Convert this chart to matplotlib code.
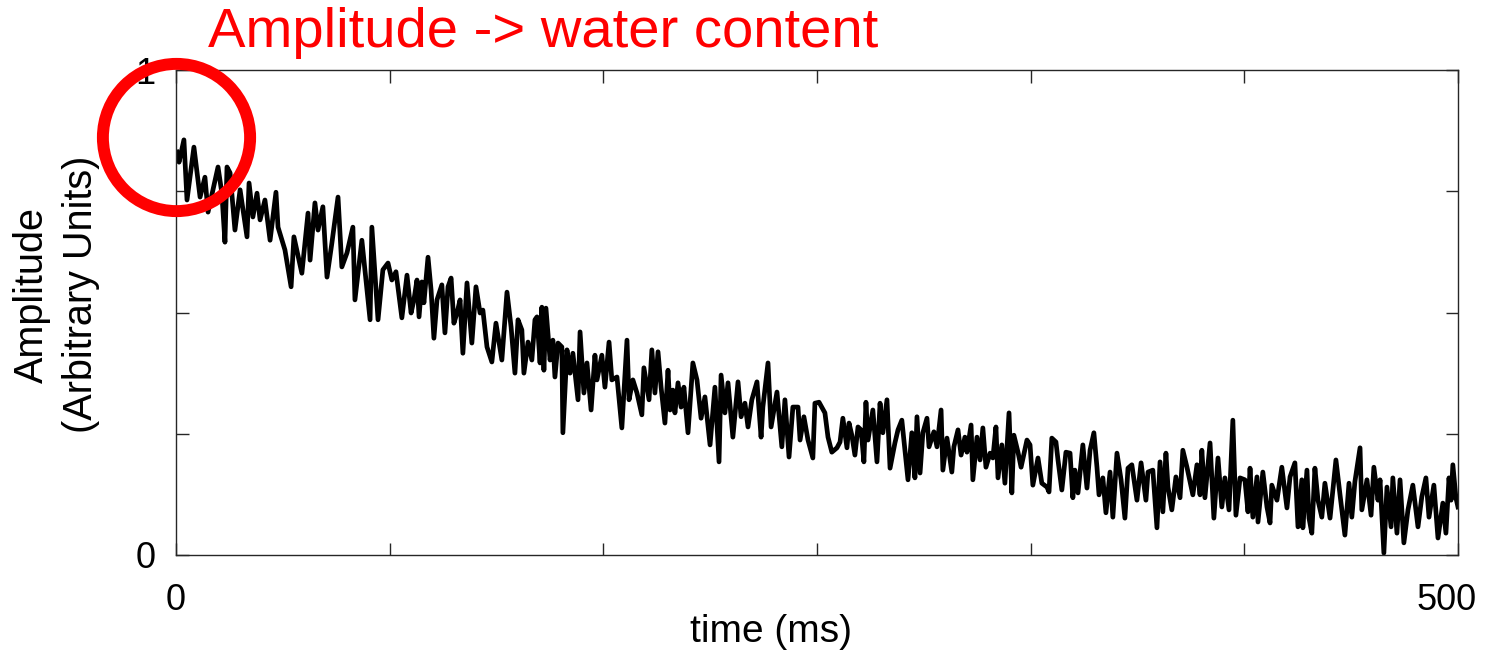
import numpy as np
import matplotlib
matplotlib.use('Agg')
import matplotlib.pyplot as plt
import matplotlib.transforms as mtransforms

plt.rcParams['font.family'] = ['Liberation Sans', 'DejaVu Sans']

# values (time in ms, amplitude in a.u.)
t_ms = [0.4, 1.2, 3.1, 4.3, 7.0, 9.4, 11.3, 12.5, 16.4, 17.9, 19.1, 19.9, 21.1, 23.0, 25.0, 27.7, 28.5, 30.0,
        31.6, 32.8, 34.7, 36.7, 39.0, 39.8, 42.5, 44.9, 46.0, 49.1, 51.5, 52.3, 54.2, 55.4, 57.3, 58.9, 60.8,
        63.2, 64.7, 66.7, 69.0, 69.8, 72.5, 75.7, 76.4, 78.8, 80.7,
        82.7, 84.2, 85.8, 88.1, 90.1, 91.7, 92.8, 94.0, 94.8, 95.9, 96.7, 98.3, 99.5, 100.6, 101.8, 103.7,
        104.9, 106.1, 107.3, 108.4, 109.6, 110.8, 111.9, 113.5, 115.4, 117.0, 118.6, 119.7, 121.3, 123.2,
        124.8, 127.1, 129.1, 130.7, 132.2, 133.4, 134.9, 135.7, 137.3, 138.8, 140.0, 140.8, 142.0, 142.7,
        143.5, 144.3, 145.9, 147.0, 147.8, 149.0, 150.5, 150.9, 152.5, 153.7, 154.8, 156.8, 157.6, 159.1,
        160.3, 161.9, 163.4,
        164.2, 166.1, 167.3, 168.9, 170.0, 172.0, 173.9, 175.9, 176.7, 178.2, 179.8, 181.7, 182.5, 184.5,
        185.6, 186.8, 188.0, 189.2, 190.7, 191.9, 192.7, 193.8, 194.6, 195.8, 197.0, 198.1, 199.7, 201.6,
        203.2, 204.8, 206.3, 208.3, 210.2, 211.8, 212.6, 214.1, 215.3, 217.2, 219.2, 220.4, 221.9, 223.1,
        224.6, 226.6, 228.2, 228.9, 230.9, 232.1, 234.4, 236.3, 237.5, 239.1, 240.6, 242.6, 243.4, 244.9,
        246.5, 248.4, 249.2,
        250.8, 253.1, 254.3, 255.8, 257.8, 259.0, 260.1, 261.7, 262.5, 263.6, 264.8, 266.0, 267.2, 268.3,
        269.1, 269.9, 271.8, 273.4, 274.6, 275.7, 277.3, 278.5, 280.4, 281.6, 283.1, 284.3, 285.5, 287.0,
        288.2, 289.0, 290.2, 291.3, 292.9, 293.7, 295.6, 296.8, 298.4, 299.1, 300.7, 302.6, 303.4, 305.0,
        306.2, 307.7, 308.5, 310.1, 310.8, 312.4, 313.6, 314.7, 315.9, 317.5, 318.6, 319.8, 320.6, 322.1,
        323.3, 324.9, 326.0, 326.8, 328.4, 329.6, 331.9, 333.1, 334.2,
        336.2, 337.7, 339.7, 340.5, 341.6, 343.2, 344.0, 345.5, 347.1, 348.7, 349.8, 350.6, 351.8, 353.7,
        355.3, 356.5, 358.0, 359.2, 360.0, 361.5, 362.7, 364.3, 365.4, 367.0, 368.6, 370.1, 371.3, 372.8,
        374.8, 376.4, 378.3, 379.1, 381.0, 382.6, 383.8, 384.9, 386.1, 386.9, 388.4, 390.0, 391.6, 392.7,
        394.3, 396.6, 398.2, 399.4, 400.1, 401.3, 403.3, 404.8, 406.4, 407.9, 409.1, 410.7, 412.2, 413.4,
        415.0, 416.9,
        418.1, 418.9, 420.0, 421.6, 422.0, 423.9, 425.5, 426.7, 427.4, 429.4, 431.3, 433.3, 434.5, 436.4,
        437.6, 439.1, 439.5, 441.1, 441.9, 443.0, 444.2, 445.4, 446.9, 448.1, 450.1, 452.4, 454.0, 455.9,
        457.5, 458.6, 459.8, 461.8, 462.5, 464.5, 466.1, 467.2, 468.8, 469.6, 471.1, 472.3, 473.9, 474.6,
        476.2, 477.4, 478.9, 480.5, 482.4, 484.4, 485.9, 487.5, 488.7, 490.6, 492.2, 494.1, 495.3, 496.5,
        497.3, 498.0, 499.2, 500.0]

amp = [0.831, 0.810, 0.856, 0.732, 0.841, 0.738, 0.779, 0.707, 0.800, 0.746, 0.645, 0.800, 0.788, 0.670,
       0.753, 0.656, 0.767, 0.697, 0.746, 0.691, 0.732, 0.649, 0.748, 0.676, 0.629, 0.553, 0.656, 0.581,
       0.705, 0.608, 0.726, 0.670, 0.718, 0.573, 0.643, 0.738, 0.594, 0.623, 0.676, 0.526, 0.649, 0.485,
       0.676, 0.485, 0.588,
       0.602, 0.567, 0.584, 0.489, 0.577, 0.499, 0.526, 0.567, 0.491, 0.563, 0.520, 0.614, 0.546, 0.447,
       0.526, 0.557, 0.458, 0.553, 0.571, 0.478, 0.499, 0.526, 0.416, 0.561, 0.437, 0.553, 0.499, 0.505,
       0.429, 0.398, 0.478, 0.402, 0.542, 0.470, 0.375, 0.485, 0.464, 0.375, 0.439, 0.402, 0.485, 0.491,
       0.396, 0.511, 0.381, 0.509, 0.402, 0.443, 0.367, 0.437, 0.429, 0.252, 0.423, 0.375, 0.416, 0.320,
       0.460, 0.334, 0.396, 0.299, 0.412,
       0.361, 0.412, 0.346, 0.439, 0.361, 0.367, 0.262, 0.443, 0.320, 0.361, 0.334, 0.289, 0.386, 0.320,
       0.423, 0.334, 0.419, 0.346, 0.272, 0.381, 0.299, 0.340, 0.293, 0.355, 0.305, 0.346, 0.252, 0.396,
       0.361, 0.282, 0.326, 0.227, 0.346, 0.192, 0.371, 0.293, 0.355, 0.243, 0.357, 0.285, 0.313, 0.264,
       0.320, 0.357, 0.243, 0.305, 0.396, 0.264, 0.336, 0.223, 0.320, 0.202, 0.305, 0.305, 0.237, 0.285,
       0.237, 0.200, 0.313,
       0.315, 0.293, 0.243, 0.212, 0.221, 0.233, 0.282, 0.221, 0.272, 0.247, 0.206, 0.264, 0.258, 0.192,
       0.315, 0.237, 0.299, 0.192, 0.313, 0.252, 0.320, 0.179, 0.231, 0.258, 0.278, 0.216, 0.155, 0.252,
       0.159, 0.285, 0.169, 0.252, 0.282, 0.223, 0.254, 0.223, 0.299, 0.175, 0.241, 0.171, 0.223, 0.258,
       0.206, 0.243, 0.212, 0.268, 0.155, 0.243, 0.196, 0.262, 0.181, 0.210, 0.200, 0.264, 0.159, 0.227,
       0.148, 0.293, 0.128, 0.247, 0.212, 0.181, 0.237, 0.227, 0.144,
       0.200, 0.148, 0.140, 0.130, 0.241, 0.233, 0.196, 0.134, 0.212, 0.210, 0.118, 0.175, 0.128, 0.227,
       0.138, 0.216, 0.252, 0.181, 0.124, 0.159, 0.087, 0.171, 0.078, 0.210, 0.155, 0.076, 0.179, 0.186,
       0.113, 0.190, 0.113, 0.171, 0.175, 0.056, 0.192, 0.089, 0.210, 0.140, 0.093, 0.161, 0.118, 0.216,
       0.181, 0.124, 0.186, 0.124, 0.216, 0.118, 0.231, 0.076, 0.200, 0.099, 0.159, 0.093, 0.278, 0.082,
       0.159, 0.155,
       0.089, 0.179, 0.078, 0.161, 0.068, 0.171, 0.099, 0.066, 0.144, 0.113, 0.181, 0.097, 0.161, 0.190,
       0.058, 0.155, 0.056, 0.175, 0.076, 0.045, 0.179, 0.113, 0.078, 0.148, 0.076, 0.196, 0.124, 0.041,
       0.148, 0.078, 0.151, 0.221, 0.093, 0.155, 0.082, 0.181, 0.113, 0.155, 0.004, 0.140, 0.058, 0.159,
       0.045, 0.155, 0.025, 0.093, 0.144, 0.058, 0.120, 0.159, 0.078, 0.144, 0.035, 0.107, 0.045, 0.159,
       0.113, 0.186, 0.118, 0.099]

x_ticks = [0, 500 / 6, 1000 / 6, 250, 2000 / 6, 2500 / 6, 500]
x_tick_labels = ['0', '', '', '', '', '', '500']
y_ticks = [0, 0.25, 0.5, 0.75, 1]
y_tick_labels = ['0', '', '', '', '1']

fig = plt.figure(figsize=(14.85, 6.52), dpi=100)
ax = fig.add_axes([0.1185, 0.1488, 0.8633, 0.7438])

ax.plot(t_ms, amp, color='black', lw=3.4, solid_joinstyle='round')

# red highlight circle at the start of the decay
ax.plot([0], [0.862], marker='o', ms=106, mfc='none', mec='#ff0000', mew=8.6, clip_on=False, zorder=5)

ax.set_xlim(0, 500)
ax.set_ylim(0, 1)
ax.set_xticks(x_ticks)
ax.set_xticklabels(x_tick_labels)
ax.set_yticks(y_ticks)
ax.set_yticklabels(y_tick_labels)
ax.tick_params(direction='in', length=9, width=1, colors='#262626', labelsize=26,
               labelcolor='black', top=True, right=True)
ax.tick_params(axis='x', pad=20)
ax.tick_params(axis='y', pad=15)
for s in ax.spines.values():
    s.set_color('#262626')
    s.set_linewidth(1)

# last x label sits a bit left of its tick, as in the original
lbl = ax.get_xticklabels()[-1]
lbl.set_transform(lbl.get_transform() + mtransforms.ScaledTranslation(-0.11, 0, fig.dpi_scale_trans))

fig.text(0.519, 0.031, 'time (ms)', fontsize=28, ha='center', va='center', color='black')
fig.text(0.038, 0.548, 'Amplitude\n(Arbitrary Units)', fontsize=28.5, rotation=90,
         ha='center', va='center', multialignment='center', linespacing=1.35)
fig.text(0.14, 0.928, 'Amplitude -> water content', fontsize=40.5, color='#ff0000',
         ha='left', va='baseline')

fig.savefig('out.png', dpi=100)
